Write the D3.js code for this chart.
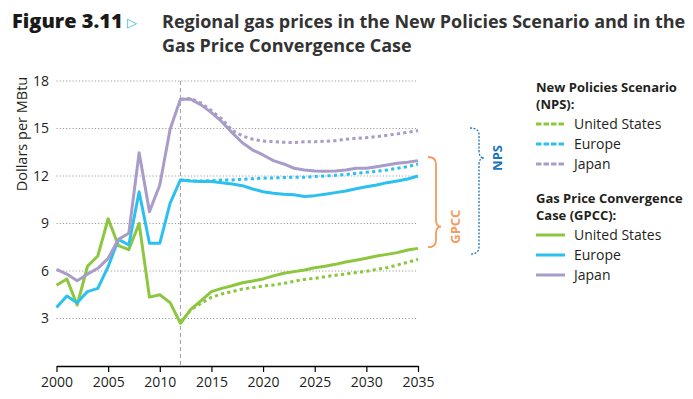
<!DOCTYPE html>
<html>
  <head>
    <meta charset="utf-8">
    <title>Regional gas prices</title>
    <script src="https://cdn.jsdelivr.net/npm/d3@7"></script>
    <style>
    html, body {
        margin: 0;
        padding: 0;
        background: #fff;
    }
    #vis text {
        font-family: 'Open Sans', sans-serif;
        fill: #231f20;
    }
    .grid line {
        stroke: #9d9d9d;
        stroke-width: 1px;
        stroke-dasharray: 1.2, 2;
    }
    .series {
        fill: none;
        stroke-width: 3px;
        stroke-linejoin: round;
    }
    .dotted {
        stroke-dasharray: 3.2, 3.2;
    }
    </style>
  </head>

  <body>
    <div id='vis'></div>
    <script>

      var years = d3.range(2000, 2036);

      // history 2000-2012, then GPCC projection 2013-2035
      var usGpcc = [5.1, 5.5, 3.85, 6.3, 6.95, 9.3, 7.6, 7.35, 9.0, 4.35, 4.5, 4.0, 2.7,
          3.58, 4.13, 4.7, 4.9, 5.07, 5.26, 5.37, 5.5, 5.69, 5.86, 5.96,
          6.06, 6.2, 6.3, 6.42, 6.57, 6.68, 6.8, 6.95, 7.05, 7.16, 7.33, 7.43];
      var euGpcc = [3.7, 4.42, 4.0, 4.7, 4.9, 6.27, 8.0, 7.64, 11.0, 7.75, 7.75, 10.28, 11.75,
          11.69, 11.65, 11.65, 11.58, 11.5, 11.39, 11.18, 11.01, 10.91, 10.85, 10.81,
          10.7, 10.76, 10.85, 10.95, 11.05, 11.2, 11.32, 11.43, 11.58, 11.69, 11.81, 12.0];
      var jpGpcc = [6.1, 5.81, 5.39, 5.8, 6.17, 6.8, 8.0, 8.38, 13.47, 9.75, 11.43, 14.95, 16.85,
          16.85, 16.49, 16.0, 15.43, 14.74, 14.1, 13.64, 13.33, 12.97, 12.76, 12.49,
          12.38, 12.32, 12.3, 12.32, 12.38, 12.49, 12.49, 12.59, 12.7, 12.8, 12.87, 12.97];

      // NPS projection 2012-2035
      var npsYears = d3.range(2012, 2036);
      var usNps = [2.7, 3.55, 3.96, 4.34, 4.55, 4.7, 4.86, 4.95, 5.05, 5.12, 5.22, 5.35,
          5.47, 5.54, 5.64, 5.73, 5.81, 5.9, 5.98, 6.1, 6.21, 6.38, 6.55, 6.74];
      var euNps = [11.75, 11.69, 11.69, 11.7, 11.75, 11.75, 11.79, 11.83, 11.86, 11.88, 11.9, 11.92,
          11.92, 11.97, 12.0, 12.04, 12.09, 12.17, 12.23, 12.3, 12.38, 12.49, 12.59, 12.76];
      var jpNps = [16.85, 16.9, 16.6, 16.13, 15.6, 14.9, 14.53, 14.32, 14.21, 14.17, 14.13, 14.11,
          14.17, 14.17, 14.19, 14.23, 14.32, 14.38, 14.42, 14.49, 14.57, 14.66, 14.76, 14.87];

      var regions = ['United States', 'Europe', 'Japan'];
      var colors = ['#8dc63f', '#2cc0ef', '#a99cc9'];
      var yTicks = [3, 6, 9, 12, 15, 18];
      var xTicks = [2000, 2005, 2010, 2015, 2020, 2025, 2030, 2035];

      var width = 693;
      var height = 399;

      var svg = d3.select('#vis').append('svg')
          .attr('width', width)
          .attr('height', height);

      var x = d3.scaleLinear().domain([2000, 2035]).range([56.5, 418]);
      var y = d3.scaleLinear().domain([0, 18]).range([366, 81]);

      // title
      svg.append('text').attr('x', 12).attr('y', 28)
          .style('font-size', '20px').style('font-weight', '800').style('fill', '#1a1a1a')
          .text('Figure 3.11');
      svg.append('text').attr('x', 127).attr('y', 27)
          .style('font-size', '13px').style('fill', '#2cb4e6')
          .text('\u25B7');
      svg.append('text').attr('x', 162).attr('y', 28)
          .style('font-size', '18px').style('font-weight', 'bold').style('fill', '#333')
          .text('Regional gas prices in the New Policies Scenario and in the');
      svg.append('text').attr('x', 162).attr('y', 52)
          .style('font-size', '18px').style('font-weight', 'bold').style('fill', '#333')
          .text('Gas Price Convergence Case');

      // gridlines
      svg.append('g').attr('class', 'grid')
          .selectAll('line')
          .data(yTicks)
          .enter()
          .append('line')
          .attr('x1', x(2000))
          .attr('x2', x(2035))
          .attr('y1', function(d) { return y(d); })
          .attr('y2', function(d) { return y(d); });

      // y tick labels
      svg.selectAll('text.ylab')
          .data(yTicks)
          .enter()
          .append('text')
          .attr('class', 'ylab')
          .attr('x', 49)
          .attr('y', function(d) { return y(d); })
          .attr('dy', '0.35em')
          .attr('text-anchor', 'end')
          .style('font-size', '14px')
          .text(function(d) { return d; });

      svg.append('text')
          .attr('transform', 'translate(27,' + 134 + ') rotate(-90)')
          .attr('text-anchor', 'middle')
          .style('font-size', '14.5px')
          .text('Dollars per MBtu');

      // 2012 divider
      svg.append('line')
          .attr('x1', x(2012)).attr('x2', x(2012))
          .attr('y1', y(18)).attr('y2', y(0))
          .style('stroke', '#a0a0a0')
          .style('stroke-width', 1)
          .style('stroke-dasharray', '4,3');

      // x axis
      var xAxis = d3.axisBottom(x)
          .tickValues(xTicks)
          .tickFormat(d3.format('d'))
          .tickSize(6)
          .tickSizeOuter(0);
      var gx = svg.append('g')
          .attr('transform', 'translate(0,' + y(0) + ')')
          .call(xAxis);
      gx.select('.domain').style('stroke', '#000').style('stroke-width', 1.5);
      gx.selectAll('.tick line').style('stroke', '#000').style('stroke-width', 1.2);
      gx.selectAll('.tick text')
          .attr('y', 11)
          .style('font-size', '14px')
          .style('font-family', "'Open Sans', sans-serif")
          .style('fill', '#231f20');

      var line = d3.line()
          .x(function(d) { return x(d[0]); })
          .y(function(d) { return y(d[1]); });

      var gpcc = [usGpcc, euGpcc, jpGpcc];
      var nps = [usNps, euNps, jpNps];

      // draw NPS dotted first, then GPCC solid on top
      [0, 1, 2].forEach(function(i) {
        svg.append('path')
            .datum(d3.zip(npsYears, nps[i]))
            .attr('class', 'series dotted')
            .attr('d', line)
            .style('stroke', colors[i]);
      });
      [0, 1, 2].forEach(function(i) {
        svg.append('path')
            .datum(d3.zip(years, gpcc[i]))
            .attr('class', 'series')
            .attr('d', line)
            .style('stroke', colors[i]);
      });

      // braces
      function brace(x0, x1, top, bottom, tip, r) {
        var p = d3.path();
        p.moveTo(x0, top);
        p.quadraticCurveTo(x1, top, x1, top + r);
        p.lineTo(x1, tip - r);
        p.quadraticCurveTo(x1, tip, x1 + 5, tip);
        p.quadraticCurveTo(x1, tip, x1, tip + r);
        p.lineTo(x1, bottom - r);
        p.quadraticCurveTo(x1, bottom, x0, bottom);
        return p.toString();
      }

      svg.append('path')
          .attr('d', brace(428, 436, y(13.2), y(7.5), y(8.8), 7))
          .style('fill', 'none')
          .style('stroke', '#f79a5b')
          .style('stroke-width', 1.8);
      svg.append('text')
          .attr('transform', 'translate(455,' + y(8.8) + ') rotate(-90)')
          .attr('text-anchor', 'middle')
          .attr('dy', '0.35em')
          .style('font-size', '13px')
          .style('font-weight', 'bold')
          .style('fill', '#f79a5b')
          .text('GPCC');

      svg.append('path')
          .attr('d', brace(470, 479, y(15.03), y(7.07), y(13.14), 7))
          .style('fill', 'none')
          .style('stroke', '#1b75bb')
          .style('stroke-width', 1.3)
          .style('stroke-dasharray', '2,1.5');
      svg.append('text')
          .attr('transform', 'translate(497,' + y(13.14) + ') rotate(-90)')
          .attr('text-anchor', 'middle')
          .attr('dy', '0.35em')
          .style('font-size', '13px')
          .style('font-weight', 'bold')
          .style('fill', '#1b75bb')
          .text('NPS');

      // legend
      var legend = svg.append('g');
      function legendBlock(top, heading1, heading2, dotted) {
        legend.append('text').attr('x', 536).attr('y', top)
            .style('font-size', '13px').style('font-weight', 'bold').text(heading1);
        legend.append('text').attr('x', 536).attr('y', top + 16.5)
            .style('font-size', '13px').style('font-weight', 'bold').text(heading2);
        regions.forEach(function(r, i) {
          var cy = top + 37 + i * 20;
          legend.append('line')
              .attr('x1', 536).attr('x2', 565)
              .attr('y1', cy - 5).attr('y2', cy - 5)
              .style('stroke', colors[i])
              .style('stroke-width', 3)
              .style('stroke-dasharray', dotted ? '5.5,2' : null);
          legend.append('text').attr('x', 574).attr('y', cy)
              .style('font-size', '14px').text(r);
        });
      }
      legendBlock(92, 'New Policies Scenario', '(NPS):', true);
      legendBlock(203, 'Gas Price Convergence', 'Case (GPCC):', false);

    </script>
  </body>
</html>
